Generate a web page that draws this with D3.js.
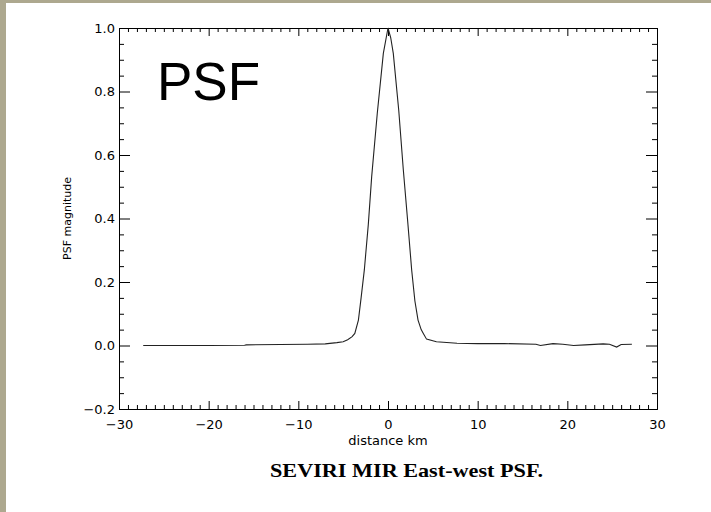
<html>
	<head>
		<meta charset="utf-8">
		<script src="https://d3js.org/d3.v7.min.js"></script>
		<style>
			body { margin: 0; background: #fff; }
			text { font-family: "DejaVu Sans", sans-serif; }
		</style>
	</head>
	<body>
		<script type="text/javascript">

// PSF profile (distance in km, magnitude)
var distance = [-27.3, -20, -16, -15.8, -12, -9, -7, -5.7, -5, -4.5, -4, -3.7, -3.3, -3.0, -2.64, -2.2, -1.82, -1.2, -0.52, 0,
	0.3, 0.59, 1.2, 1.71, 2.2, 2.64, 3.0, 3.35, 3.7, 3.94, 4.3, 5.4, 7.7, 10, 13, 16.5, 17, 18.4, 19.5, 20.7, 22, 24, 24.7, 25.5, 26, 27.2];
var magnitude = [0, 0, 0.001, 0.002, 0.003, 0.004, 0.005, 0.009, 0.012, 0.018, 0.028, 0.038, 0.08, 0.15, 0.238, 0.38, 0.532, 0.73, 0.92, 1.0,
	0.97, 0.92, 0.74, 0.553, 0.39, 0.238, 0.14, 0.08, 0.05, 0.038, 0.02, 0.012, 0.007, 0.006, 0.006, 0.004, 0.0, 0.006, 0.004, 0.0, 0.002, 0.005, 0.004, -0.005, 0.003, 0.004];

var xMajor = [-30, -20, -10, 0, 10, 20, 30];
var yMajor = [-0.2, 0.0, 0.2, 0.4, 0.6, 0.8, 1.0];

var W = 711, H = 512;
// plot box (note: "top" is reserved on window, so use pTop etc.)
var pLeft = 119, pRight = 657, pTop = 28, pBottom = 409;

var svg = d3.select("body").append("svg")
	.attr("width", W).attr("height", H);

svg.append("rect").attr("width", W).attr("height", H).attr("fill", "#fff");
// beige frame on the left and top
svg.append("rect").attr("x", 0).attr("y", 0).attr("width", 6).attr("height", H).attr("fill", "#ada88f");
svg.append("rect").attr("x", 0).attr("y", 0).attr("width", W).attr("height", 3).attr("fill", "#ada88f");

var x = d3.scaleLinear().domain([-30, 30]).range([pLeft, pRight]);
var y = d3.scaleLinear().domain([-0.2, 1.0]).range([pBottom, pTop]);

var xMinor = d3.range(-30, 31, 1).filter(function(v) { return v % 10 != 0; });
var yMinor = d3.range(-4, 21).map(function(i) { return i * 0.05; }).filter(function(v, i) { return (i % 4) != 0; });

var fmtY = d3.format(".1f");
var fmtX = d3.format("d");

function style(g) {
	g.select(".domain").attr("stroke", "#000");
	g.selectAll(".tick line").attr("stroke", "#000");
	g.selectAll("text").attr("fill", "#000")
		.style("font-family", "'DejaVu Sans', sans-serif")
		.style("font-size", "13px");
}

// bottom axis (labels)
svg.append("g").attr("transform", "translate(0," + pBottom + ")")
	.call(d3.axisBottom(x).tickValues(xMajor).tickSizeInner(-8).tickSizeOuter(0).tickPadding(11).tickFormat(fmtX))
	.call(style);
svg.append("g").attr("transform", "translate(0," + pBottom + ")")
	.call(d3.axisBottom(x).tickValues(xMinor).tickSizeInner(-4).tickSizeOuter(0).tickFormat(""))
	.call(style);
// top axis
svg.append("g").attr("transform", "translate(0," + pTop + ")")
	.call(d3.axisTop(x).tickValues(xMajor).tickSizeInner(-8).tickSizeOuter(0).tickFormat(""))
	.call(style);
svg.append("g").attr("transform", "translate(0," + pTop + ")")
	.call(d3.axisTop(x).tickValues(xMinor).tickSizeInner(-4).tickSizeOuter(0).tickFormat(""))
	.call(style);
// left axis (labels)
svg.append("g").attr("transform", "translate(" + pLeft + ",0)")
	.call(d3.axisLeft(y).tickValues(yMajor).tickSizeInner(-11).tickSizeOuter(0).tickPadding(4).tickFormat(fmtY))
	.call(style);
svg.append("g").attr("transform", "translate(" + pLeft + ",0)")
	.call(d3.axisLeft(y).tickValues(yMinor).tickSizeInner(-5).tickSizeOuter(0).tickFormat(""))
	.call(style);
// right axis
svg.append("g").attr("transform", "translate(" + pRight + ",0)")
	.call(d3.axisRight(y).tickValues(yMajor).tickSizeInner(-11).tickSizeOuter(0).tickFormat(""))
	.call(style);
svg.append("g").attr("transform", "translate(" + pRight + ",0)")
	.call(d3.axisRight(y).tickValues(yMinor).tickSizeInner(-5).tickSizeOuter(0).tickFormat(""))
	.call(style);

// the PSF curve
var pts = distance.map(function(d, i) { return [d, magnitude[i]]; });
var line = d3.line().x(function(d) { return x(d[0]); }).y(function(d) { return y(d[1]); });
svg.append("path").datum(pts)
	.attr("d", line)
	.attr("fill", "none")
	.attr("stroke", "#222")
	.attr("stroke-width", 1.1);

// axis titles
svg.append("text")
	.attr("x", (pLeft + pRight) / 2).attr("y", 445)
	.attr("text-anchor", "middle")
	.style("font-size", "13px")
	.text("distance km");

svg.append("text")
	.attr("transform", "translate(71," + ((pTop + pBottom) / 2) + ") rotate(-90)")
	.attr("text-anchor", "middle")
	.style("font-size", "11px")
	.text("PSF magnitude");

// big label inside the plot
svg.append("text")
	.attr("x", 157).attr("y", 100)
	.style("font-family", "'Liberation Sans', Arial, sans-serif")
	.style("font-size", "53px")
	.text("PSF");

// caption (LaTeX-style bold serif, wide)
svg.append("text")
	.attr("x", 270).attr("y", 477)
	.attr("textLength", 273)
	.attr("lengthAdjust", "spacingAndGlyphs")
	.style("font-family", "'Liberation Serif', 'Times New Roman', serif")
	.style("font-weight", "bold")
	.style("font-size", "19px")
	.text("SEVIRI MIR East-west PSF.");

		</script>
	</body>
</html>
